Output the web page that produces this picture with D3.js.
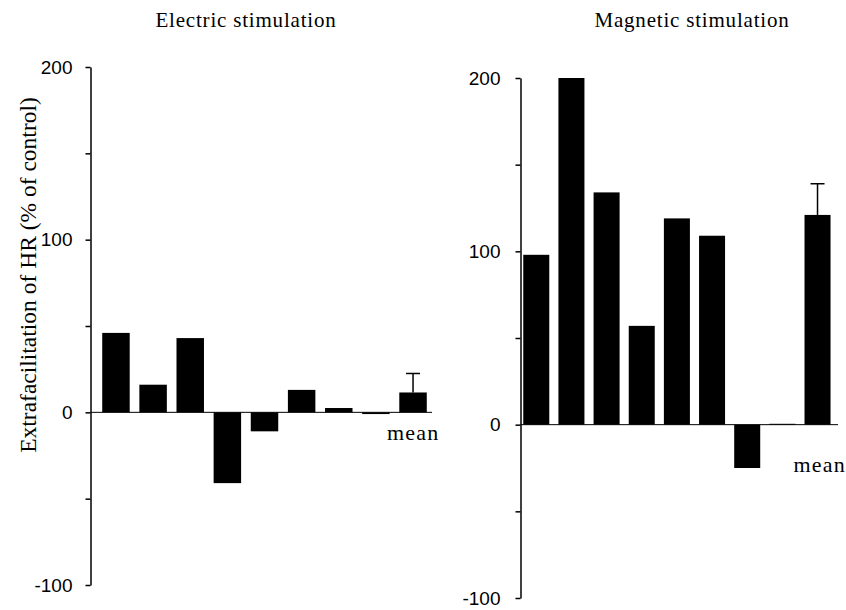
<!DOCTYPE html>
<html>
<head>
<meta charset="utf-8">
<script src="https://cdn.jsdelivr.net/npm/d3@7"></script>
<style>
  body { margin: 0; background: #fff; }
  svg { display: block; }
</style>
</head>
<body>
<div id="svgContainer"></div>
<script>
// one bar per subject, last bar is the mean (+ SE)
var categories = ["1", "2", "3", "4", "5", "6", "7", "8", "mean"];
var electricValues = [46, 16, 43, -41, -11, 13, 2.5, -1, 11.5];
var electricMeanSE = 11;
var magneticValues = [98, 200, 134, 57, 119, 109, -25, 0.5, 121];
var magneticMeanSE = 18;
var tickValues = [-100, -50, 0, 50, 100, 150, 200];
var labelledTicks = [-100, 0, 100, 200];

var width = 846, height = 610;

var svg = d3.select("#svgContainer")
    .append("svg")
    .attr("width", width)
    .attr("height", height);

// y axis title (shared, left side)
svg.append("text")
    .attr("transform", "translate(36,275) rotate(-90)")
    .attr("text-anchor", "middle")
    .style("font-family", "Liberation Serif")
    .style("font-size", "23.5px")
    .text("Extrafacilitation of HR (% of control)");

function drawPanel(cfg) {
    var g = svg.append("g");

    var yScale = d3.scaleLinear()
        .domain([-100, 200])
        .range([cfg.yBot, cfg.yTop]);
    var xScale = d3.scaleBand()
        .domain(categories)
        .range(cfg.band)
        .paddingInner(0.26)
        .paddingOuter(0.13);

    // title
    g.append("text")
        .attr("x", cfg.titleX)
        .attr("y", 27)
        .attr("text-anchor", "middle")
        .style("font-family", "Liberation Serif")
        .style("font-size", "21px")
        .style("letter-spacing", "0.8px")
        .text(cfg.title);

    // bars
    g.selectAll("rect.bar")
        .data(cfg.values)
        .enter()
        .append("rect")
        .attr("class", "bar")
        .attr("x", (d, i) => xScale(categories[i]))
        .attr("width", xScale.bandwidth())
        .attr("y", d => yScale(Math.max(0, d)))
        .attr("height", d => Math.abs(yScale(d) - yScale(0)))
        .attr("fill", "#000");

    // zero line
    g.append("line")
        .attr("x1", cfg.axisX)
        .attr("x2", cfg.zeroEnd)
        .attr("y1", yScale(0))
        .attr("y2", yScale(0))
        .attr("stroke", "#000")
        .attr("stroke-width", 1);

    // error bar on mean
    var meanVal = cfg.values[cfg.values.length - 1];
    var cx = xScale("mean") + xScale.bandwidth() / 2;
    g.append("line")
        .attr("x1", cx).attr("x2", cx)
        .attr("y1", yScale(meanVal))
        .attr("y2", yScale(meanVal + cfg.se))
        .attr("stroke", "#000")
        .attr("stroke-width", 1.5);
    g.append("line")
        .attr("x1", cx - 7).attr("x2", cx + 7)
        .attr("y1", yScale(meanVal + cfg.se))
        .attr("y2", yScale(meanVal + cfg.se))
        .attr("stroke", "#000")
        .attr("stroke-width", 1.5);

    // y axis
    var axis = g.append("g")
        .attr("transform", "translate(" + cfg.axisX + ",0)")
        .call(d3.axisLeft(yScale)
            .tickValues(tickValues)
            .tickSize(5)
            .tickSizeOuter(0)
            .tickPadding(cfg.pad)
            .tickFormat(d => labelledTicks.indexOf(d) >= 0 ? d : ""));
    axis.select(".domain").attr("stroke-width", 1.5);
    axis.selectAll(".tick line").attr("stroke-width", 1.5);
    axis.selectAll(".tick text")
        .style("font-family", "Liberation Sans")
        .style("font-size", "19px")
        .attr("fill", "#000");

    // "mean" label
    g.append("text")
        .attr("x", cfg.meanX)
        .attr("y", cfg.meanY)
        .attr("text-anchor", cfg.meanAnchor)
        .style("font-family", "Liberation Serif")
        .style("font-size", "22px")
        .style("letter-spacing", "1.2px")
        .text("mean");
}

drawPanel({
    title: "Electric stimulation", titleX: 246,
    values: electricValues, se: electricMeanSE,
    axisX: 90.5, yTop: 67, yBot: 585,
    band: [97.4, 431.6], zeroEnd: 432, pad: 13,
    meanX: 387, meanY: 440, meanAnchor: "start"
});

drawPanel({
    title: "Magnetic stimulation", titleX: 692,
    values: magneticValues, se: magneticMeanSE,
    axisX: 520.5, yTop: 78, yBot: 598,
    band: [518.7, 835.1], zeroEnd: 838, pad: 15,
    meanX: 846, meanY: 472, meanAnchor: "end"
});
</script>
</body>
</html>
